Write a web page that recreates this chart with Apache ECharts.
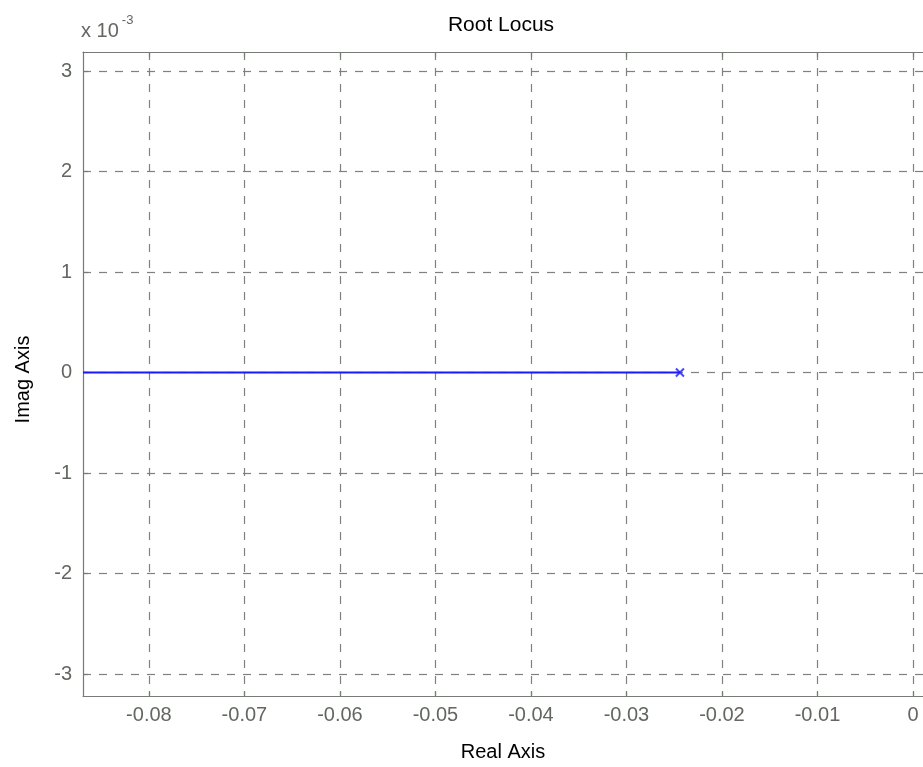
<!DOCTYPE html>
<html>
<head>
<meta charset="utf-8">
<script src="https://cdn.jsdelivr.net/npm/echarts@6/dist/echarts.min.js"></script>
<style>html,body{margin:0;padding:0;background:#fff;}#c{width:923px;height:767px;}</style>
</head>
<body>
<div id="c"></div>
<script>
const xTicks = [-0.08, -0.07, -0.06, -0.05, -0.04, -0.03, -0.02, -0.01, 0];
const yTicks = [-3, -2, -1, 0, 1, 2, 3];           // in units of 1e-3
const locusReal = [-0.0869, -0.0244];
const locusImag = [0, 0];
const poleReal = [-0.0244];
const poleImag = [0];

const xMin = -0.0869, xMax = 0.00105;
const yMin = -3.219, yMax = 3.189;

const gray = '#767b76';
const labelGray = '#62675f';
const font = 'Liberation Sans, Arial, sans-serif';

const chart = echarts.init(document.getElementById('c'));
const xFmt = v => (Math.abs(v) < 1e-9 ? '0' : v.toFixed(2));
const axisLineStyle = { show: true, onZero: false, lineStyle: { color: gray, width: 1.2 } };
const tick = vals => ({ show: true, inside: true, length: 5, lineStyle: { color: gray, width: 1.2 }, customValues: vals });
const gridStyle = { show: true, lineStyle: { color: '#7d827d', type: [8, 8], width: 1.2 } };

chart.setOption({
  animation: false,
  graphic: [{
    type: 'text', x: 501, y: 15,
    style: { text: 'Root Locus', fontFamily: font, fontSize: 21, fill: '#000', textAlign: 'center', textVerticalAlign: 'top' }
  }, {
    type: 'text', x: 81, y: 14,
    style: {
      text: '{a|x 10}{b|-3}',
      rich: {
        a: { fontFamily: font, fontSize: 20, fill: labelGray },
        b: { fontFamily: font, fontSize: 13, fill: labelGray, padding: [0, 0, 22, 3] }
      }
    }
  }],
  grid: { left: 83, top: 52, right: 0, bottom: 70, containLabel: false },
  xAxis: [{
    type: 'value', min: xMin, max: xMax, position: 'bottom',
    name: 'Real Axis', nameLocation: 'middle', nameGap: 46,
    nameTextStyle: { fontFamily: font, fontSize: 20, color: '#000' },
    axisLine: axisLineStyle,
    axisTick: tick(xTicks),
    axisLabel: { customValues: xTicks, formatter: xFmt, fontFamily: font, fontSize: 20, color: labelGray, margin: 9 },
    splitLine: gridStyle
  }, {
    type: 'value', min: xMin, max: xMax, position: 'top',
    axisLine: axisLineStyle,
    axisTick: tick(xTicks),
    axisLabel: { show: false, customValues: xTicks },
    splitLine: { show: false }
  }],
  yAxis: [{
    type: 'value', min: yMin, max: yMax, position: 'left',
    name: 'Imag Axis', nameLocation: 'middle', nameGap: 50, nameRotate: 90,
    nameTextStyle: { fontFamily: font, fontSize: 20, color: '#000', padding: [0, 11, 0, 0] },
    axisLine: axisLineStyle,
    axisTick: tick(yTicks),
    axisLabel: { customValues: yTicks, formatter: v => String(Math.round(v)), fontFamily: font, fontSize: 20, color: labelGray, margin: 11 },
    splitLine: gridStyle
  }],
  series: [{
    type: 'line',
    data: locusReal.map((x, i) => [x, locusImag[i]]),
    symbol: 'none',
    lineStyle: { color: '#1a1aff', width: 2 },
    clip: true, z: 5
  }, {
    type: 'scatter',
    data: poleReal.map((x, i) => [x, poleImag[i]]),
    symbol: 'path://M0,0L10,10M10,0L0,10',
    symbolSize: 8,
    itemStyle: { color: 'none', borderColor: '#1a1aff', borderWidth: 2 },
    z: 6
  }]
});
</script>
</body>
</html>
